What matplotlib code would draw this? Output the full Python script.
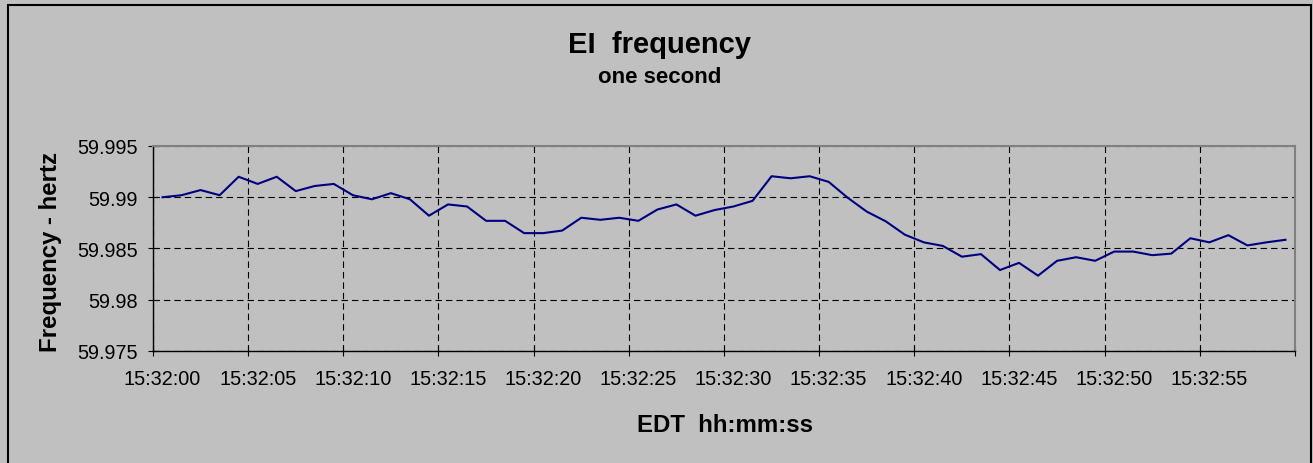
import matplotlib
matplotlib.use("Agg")
import matplotlib.pyplot as plt
from matplotlib.patches import Rectangle
import numpy as np

# one reading per second, 15:32:00 .. 15:32:59
freq_hz = [
    59.99000, 59.99020, 59.99070, 59.99020, 59.99200, 59.99130, 59.99200, 59.99060, 59.99110, 59.99130,
    59.99020, 59.98980, 59.99040, 59.98980, 59.98820, 59.98930, 59.98910, 59.98770, 59.98770, 59.98650,
    59.98650, 59.98675, 59.98800, 59.98780, 59.98800, 59.98770, 59.98880, 59.98930, 59.98820, 59.98875,
    59.98910, 59.98965, 59.99205, 59.99185, 59.99205, 59.99150, 59.98995, 59.98860, 59.98765, 59.98635,
    59.98560, 59.98525, 59.98420, 59.98445, 59.98290, 59.98360, 59.98235, 59.98380, 59.98415, 59.98380,
    59.98470, 59.98470, 59.98435, 59.98450, 59.98600, 59.98560, 59.98630, 59.98530, 59.98560, 59.98585,
]
time_labels = ["15:32:00", "15:32:05", "15:32:10", "15:32:15", "15:32:20", "15:32:25",
               "15:32:30", "15:32:35", "15:32:40", "15:32:45", "15:32:50", "15:32:55"]
y_ticks = [59.975, 59.98, 59.985, 59.99, 59.995]
y_tick_labels = ["59.975", "59.98", "59.985", "59.99", "59.995"]

plt.rcParams["font.family"] = ["Liberation Sans", "DejaVu Sans"]

W, H = 1313, 464
fig = plt.figure(figsize=(W / 100, H / 100), dpi=100, facecolor="#C0C0C0")

# outer chart border (bottom edge runs off the picture)
fig.patches.append(Rectangle((8 / W, -6 / H), (1311 - 8) / W, (458 + 6) / H,
                             transform=fig.transFigure, fill=False,
                             edgecolor="black", linewidth=1.5))

ax = fig.add_axes([153 / W, 1 - 352 / H, (1295 - 153) / W, (352 - 147) / H])
ax.set_facecolor("#C0C0C0")

x = np.arange(len(freq_hz))
ax.plot(x, freq_hz, color="#000080", linewidth=1.5)

ax.set_xlim(-0.5, len(freq_hz) - 0.5)
ax.set_ylim(59.975, 59.995)

# labels sit at category centres, tick marks on category boundaries
ax.set_xticks(x[::5])
ax.set_xticklabels(time_labels)
ax.set_xticks(np.arange(-0.5, len(freq_hz), 5), minor=True)
ax.tick_params(axis="x", which="major", length=0, pad=13, labelsize=14.3)
ax.tick_params(axis="x", which="minor", direction="inout", length=7, width=0.8)

ax.set_yticks(y_ticks)
ax.set_yticklabels(y_tick_labels)
ax.tick_params(axis="y", direction="inout", length=7, width=0.8, pad=7.5, labelsize=14.3)

dash = (0, (5.8, 3.6))
ax.grid(True, axis="x", which="minor", color="black", linewidth=0.8, linestyle=dash)
ax.grid(True, axis="y", which="major", color="black", linewidth=0.8, linestyle=dash)

for side in ("top", "right"):
    ax.spines[side].set_color("#808080")
    ax.spines[side].set_linewidth(1.5)
for side in ("left", "bottom"):
    ax.spines[side].set_color("black")
    ax.spines[side].set_linewidth(1.0)

fig.text(660 / W, 1 - 53 / H, "EI  frequency", ha="center", va="baseline",
         fontsize=21, fontweight="bold")
fig.text(660 / W, 1 - 83 / H, "one second", ha="center", va="baseline",
         fontsize=16, fontweight="bold")
fig.text(725 / W, 1 - 432 / H, "EDT  hh:mm:ss", ha="center", va="baseline",
         fontsize=17.3, fontweight="bold")
fig.text(51 / W, 1 - 252 / H, "Frequency - hertz", ha="center", va="center",
         rotation=90, fontsize=17.3, fontweight="bold")

fig.savefig("out.png", dpi=100, facecolor=fig.get_facecolor())
